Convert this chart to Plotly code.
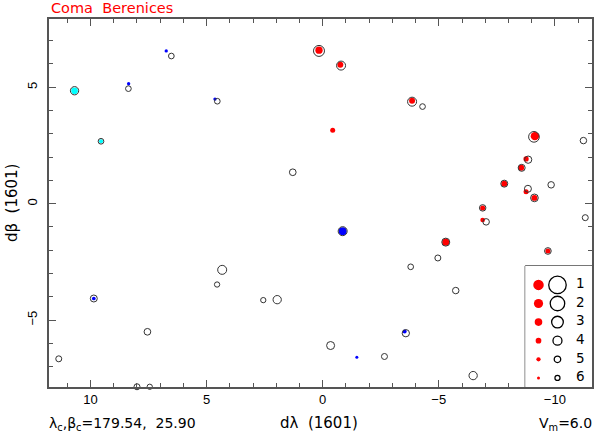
import numpy as np
import plotly.graph_objects as go

# star positions in the 1601 catalogue (open circles), offsets in degrees
star_dl = [10.69, 6.52, 8.37, 4.54, 9.55, 0.16, -0.79, 1.29, -3.85, -4.30,
           -9.10, -11.23, -8.85, -8.57, -7.82, -9.84, -8.84, -9.12, -6.89, -7.04,
           -11.31, -5.30, -9.70, -4.96, -5.73, -6.48, -0.86, 2.56, 1.96, -0.34,
           -2.66, -3.58, -3.79, 9.86, 4.33, 4.55, 7.55, 11.37, 8.00, 7.45]
star_db = [4.85, 6.34, 4.94, 4.40, 2.68, 6.56, 5.93, 1.35, 4.38, 4.17,
           2.87, 2.71, 1.89, 1.54, 0.86, 0.81, 0.64, 0.25, -0.18, -0.78,
           -0.60, -1.65, -2.03, -2.33, -3.73, -7.38, -1.18, -4.14, -4.12, -6.09,
           -6.56, -5.56, -2.71, -4.07, -2.84, -3.47, -5.50, -6.66, -7.86, -7.86]
star_mag = [4.28, 5.53, 5.53, 5.53, 5.53, 3.26, 4.0, 4.92, 4.0, 5.53,
            3.37, 5.0, 4.68, 4.8, 4.8, 5.0, 4.8, 4.52, 5.0, 5.0,
            5.33, 4.4, 4.92, 5.33, 5.0, 4.28, 4.0, 5.8, 4.28, 4.4,
            5.33, 4.68, 5.53, 4.8, 4.0, 5.8, 4.92, 5.33, 5.33, 5.8]

# modern positions (filled dots)
dot_dl = [10.69, 6.74, 8.36, 4.64, 9.55, 0.16, -0.76, -0.43, -3.85, -9.14,
          -8.76, -8.55, -7.82, -8.76, -9.12, -6.89, -6.89, -5.30, -9.70, -0.86,
          -1.47, -3.53, 9.86]
dot_db = [4.85, 6.56, 5.15, 4.49, 2.68, 6.59, 5.97, 3.15, 4.42, 2.90,
          1.92, 1.54, 0.86, 0.51, 0.25, -0.18, -0.70, -1.65, -2.03, -1.18,
          -6.59, -5.49, -4.07]
dot_mag = [3.47, 5.75, 5.75, 5.75, 5.2, 3.15, 3.85, 4.5, 3.85, 2.5,
           4.3, 3.85, 3.85, 4.5, 3.85, 4.5, 4.7, 3.3, 4.5, 2.75,
           6.0, 5.2, 5.45]
dot_col = ['c', 'b', 'b', 'b', 'c', 'r', 'r', 'r', 'r', 'r',
           'r', 'r', 'r', 'r', 'r', 'r', 'r', 'r', 'r', 'b',
           'b', 'b', 'b']

# magnitude key
legend_mag = [1, 2, 3, 4, 5, 6]
circle_px = [17.5, 14.5, 11.7, 9.0, 6.5, 5.0]
dot_px = [10.5, 9.2, 7.6, 5.7, 4.3, 3.0]

colours = {'r': '#ff0000', 'b': '#0000ff', 'c': '#00ffff'}
axcol = '#555555'
txtfont = 'DejaVu Sans, Verdana, sans-serif'

fig = go.Figure()

fig.add_trace(go.Scatter(
    x=dot_dl, y=dot_db, mode='markers', cliponaxis=False,
    marker=dict(size=np.interp(dot_mag, legend_mag, dot_px), opacity=1,
                color=[colours[c] for c in dot_col], line=dict(width=0))))

fig.add_trace(go.Scatter(
    x=star_dl, y=star_db, mode='markers', cliponaxis=False,
    marker=dict(size=np.interp(star_mag, legend_mag, circle_px), opacity=1,
                color='rgba(0,0,0,0)', line=dict(color='#333333', width=1))))

# key inside the lower right box
fig.add_trace(go.Scatter(
    x=[0] * len(legend_mag), y=legend_mag, mode='markers', xaxis='x2', yaxis='y2',
    marker=dict(size=dot_px, color='#ff0000', opacity=1, line=dict(width=0))))
fig.add_trace(go.Scatter(
    x=[1] * len(legend_mag), y=legend_mag, mode='markers', xaxis='x2', yaxis='y2',
    marker=dict(size=circle_px, color='rgba(0,0,0,0)', opacity=1,
                line=dict(color='black', width=1.3))))
fig.add_trace(go.Scatter(
    x=[2.2] * len(legend_mag), y=legend_mag, mode='text', xaxis='x2', yaxis='y2',
    text=[str(m) for m in legend_mag],
    textfont=dict(size=13.5, color='black', family=txtfont)))

axis_style = dict(
    ticks='inside', ticklen=7, tickwidth=1, tickcolor=axcol,
    showline=True, linecolor=axcol, linewidth=1.5, mirror='ticks',
    showgrid=False, zeroline=False, dtick=5, tick0=0,
    minor=dict(dtick=1, ticks='inside', ticklen=4, tickcolor=axcol, showgrid=False),
    tickfont=dict(size=13, color='black'))

fig.update_layout(
    width=598, height=436,
    margin=dict(l=49, r=4, t=19, b=49),
    plot_bgcolor='white', paper_bgcolor='white',
    showlegend=False,
    font=dict(family='Liberation Sans, Arial, sans-serif', size=13, color='black'),
    xaxis=dict(range=[11.79, -11.6], **axis_style),
    yaxis=dict(range=[-7.87, 7.93], tickangle=-90, ticklabelstandoff=5, **axis_style),
    xaxis2=dict(domain=[0.877, 1], range=[-0.7, 2.82], anchor='y2', visible=False),
    yaxis2=dict(domain=[0, 0.329], range=[6.49, -0.02], anchor='x2', visible=False),
    shapes=[dict(type='rect', xref='paper', yref='paper', x0=0.877, x1=1, y0=0, y1=0.329,
                 line=dict(color='black', width=1), fillcolor='white', layer='below')],
    annotations=[
        dict(text='Coma  Berenices', x=0, y=1.03, xref='paper', yref='paper',
             xanchor='left', yanchor='middle', showarrow=False,
             font=dict(size=14.5, color='#ff0000', family=txtfont)),
        dict(text='dλ  (1601)', x=0.497, y=-0.098, xref='paper', yref='paper',
             xanchor='center', yanchor='middle', showarrow=False,
             font=dict(size=15, family=txtfont)),
        dict(text='dβ  (1601)', x=-0.068, y=0.5, xref='paper', yref='paper',
             xanchor='center', yanchor='middle', showarrow=False, textangle=-90,
             font=dict(size=15, family=txtfont)),
        dict(text='λ<sub>c</sub>,β<sub>c</sub>=179.54,  25.90', x=-0.004, y=-0.1,
             xref='paper', yref='paper', xanchor='left', yanchor='middle',
             showarrow=False, font=dict(size=14, family=txtfont)),
        dict(text='V<sub>m</sub>=6.0', x=1.004, y=-0.1, xref='paper', yref='paper',
             xanchor='right', yanchor='middle', showarrow=False,
             font=dict(size=14, family=txtfont)),
    ])

# drop the default page margin so the figure sits at the window's corner
fig.write_html("out.html", config={'displayModeBar': False},
               post_script="document.body.style.margin = '0';")
